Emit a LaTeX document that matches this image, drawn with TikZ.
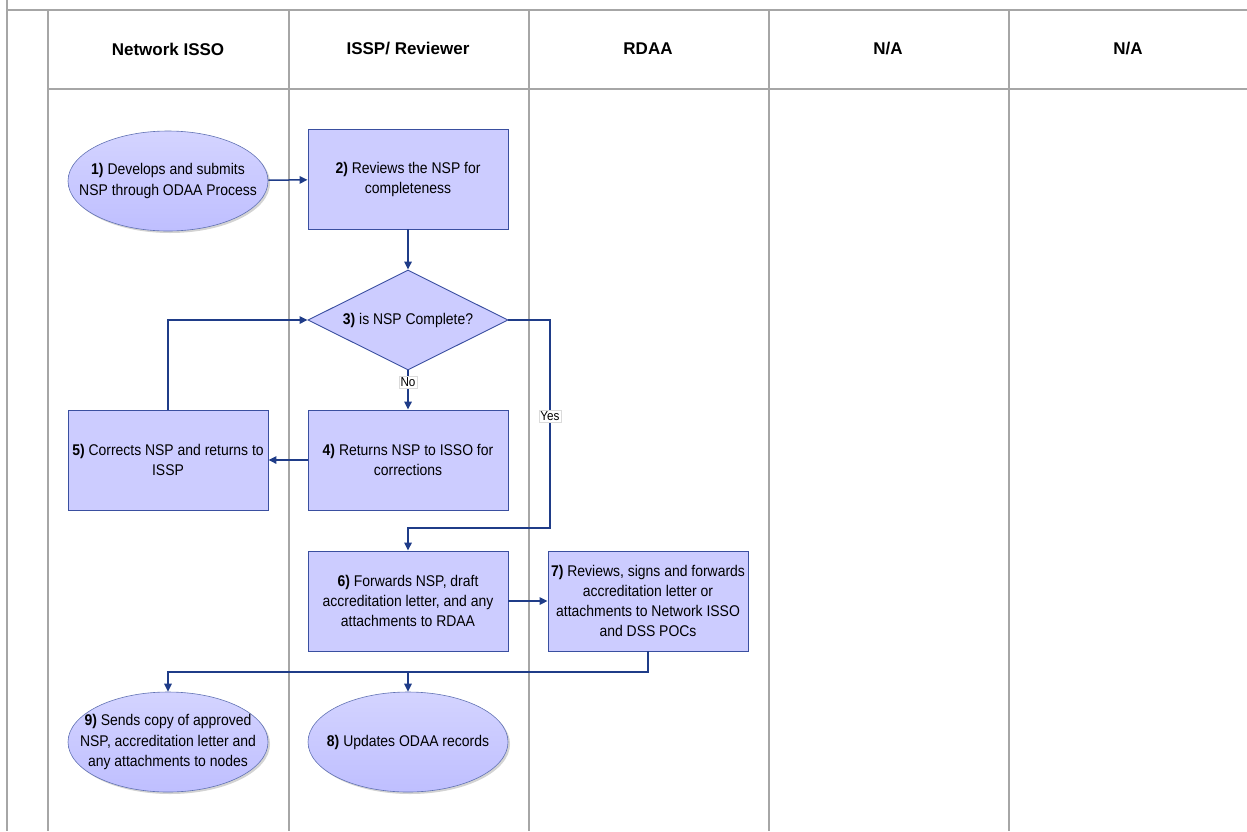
\documentclass[tikz,border=0pt]{standalone}
\usepackage{fontspec}
\setmainfont{Liberation Sans}
\newfontfamily\stepfont{Liberation Sans}[FakeStretch=0.9]
\usetikzlibrary{shapes.geometric,arrows.meta,shadows}

\definecolor{lanegray}{HTML}{A6A6A6}
\definecolor{flowblue}{HTML}{1F3C88}
\definecolor{boxfill}{HTML}{CCCCFF}
\definecolor{boxborder}{HTML}{3A4FA0}

\begin{document}
\begin{tikzpicture}[x=1pt,y=-1pt,
	lane_line/.style={draw=lanegray,line width=2.4pt},
	lane_head/.style={font=\fontsize{17}{20}\selectfont\bfseries},
	process_node/.style={rectangle,draw=boxborder,fill=boxfill,line width=0.9pt,minimum width=200pt,minimum height=100pt,inner xsep=1pt,inner ysep=3pt,align=center,font=\stepfont\fontsize{15.5}{20}\selectfont},
	decision_node/.style={diamond,aspect=2,draw=boxborder,fill=boxfill,line width=0.9pt,minimum width=200pt,minimum height=100pt,inner sep=0pt,font=\stepfont\fontsize{15.5}{20}\selectfont},
	terminal_node/.style={ellipse,draw=boxborder!80,line width=0.6pt,top color=boxfill!85!white,bottom color=boxfill!80!blue!70,minimum width=200pt,minimum height=100pt,inner sep=0pt,drop shadow={shadow xshift=2pt,shadow yshift=-2pt,opacity=0.35}},
	terminal_text/.style={align=center,inner sep=0pt,font=\stepfont\fontsize{15.5}{20.5}\selectfont},
	branch_label/.style={fill=white,draw=lanegray!40,line width=0.3pt,inner sep=1.2pt,font=\stepfont\fontsize{13}{14}\selectfont},
	flow/.style={draw=flowblue,line width=1.5pt,-{Triangle[length=8pt,width=7.5pt]}}]

	\useasboundingbox (0,0) rectangle (1247,831);

	% swim lanes
	\draw[lane_line] (7,0) -- (7,831);
	\draw[lane_line] (7,10) -- (1247,10);
	\draw[lane_line] (48,10) -- (48,831);
	\draw[lane_line] (48,89) -- (1247,89);
	\foreach \x in {289,529,769,1009}
		\draw[lane_line] (\x,10) -- (\x,831);

	\node[lane_head] (h1) at (168,49) {Network ISSO};
	\node[lane_head] (h2) at (408,49) {ISSP/ Reviewer};
	\node[lane_head] (h3) at (648,49) {RDAA};
	\node[lane_head] (h4) at (888,49) {N/A};
	\node[lane_head] (h5) at (1128,49) {N/A};

	% steps
	\node[terminal_node] (1) at (168,181) {};
	\node[terminal_text] (1t) at (1) {\textbf{1)} Develops and submits\\NSP through ODAA Process};
	\node[process_node] (2) at (408,179) {\textbf{2)} Reviews the NSP for\\completeness};
	\node[decision_node] (3) at (408,320) {\textbf{3)} is NSP Complete?};
	\node[process_node] (4) at (408,460) {\textbf{4)} Returns NSP to ISSO for\\corrections};
	\node[process_node] (5) at (168,460) {\textbf{5)} Corrects NSP and returns to\\ISSP};
	\node[process_node] (6) at (408,601) {\textbf{6)} Forwards NSP, draft\\accreditation letter, and any\\attachments to RDAA};
	\node[process_node] (7) at (648,601) {\textbf{7)} Reviews, signs and forwards\\accreditation letter or\\attachments to Network ISSO\\and DSS POCs};
	\node[terminal_node] (8) at (408,742) {};
	\node[terminal_text] (8t) at (8) {\textbf{8)} Updates ODAA records};
	\node[terminal_node] (9) at (168,742) {};
	\node[terminal_text] (9t) at (9) {\textbf{9)} Sends copy of approved\\NSP, accreditation letter and\\any attachments to nodes};

	\coordinate (yes_bend) at (550,528);
	\coordinate (send_bend) at (168,672);

	\draw[flow] (1) -- (2);
	\draw[flow] (2) -- (3);
	\draw[flow] (3.south) -- node[branch_label,pos=0.3] (no) {No} (4.north);
	\draw[flow] (3.east) -| (yes_bend) -| (6.north);
	\node[branch_label] (yes) at (550,416) {Yes};
	\draw[flow] (4.west) -- (5.east);
	\draw[flow] (5.north) |- (3.west);
	\draw[flow] (6.east) -- (7.west);
	\draw[flow] (7.south) |- (send_bend) -- (9.north);
	\draw[flow] (8.north |- send_bend) -- (8.north);
\end{tikzpicture}
\end{document}
